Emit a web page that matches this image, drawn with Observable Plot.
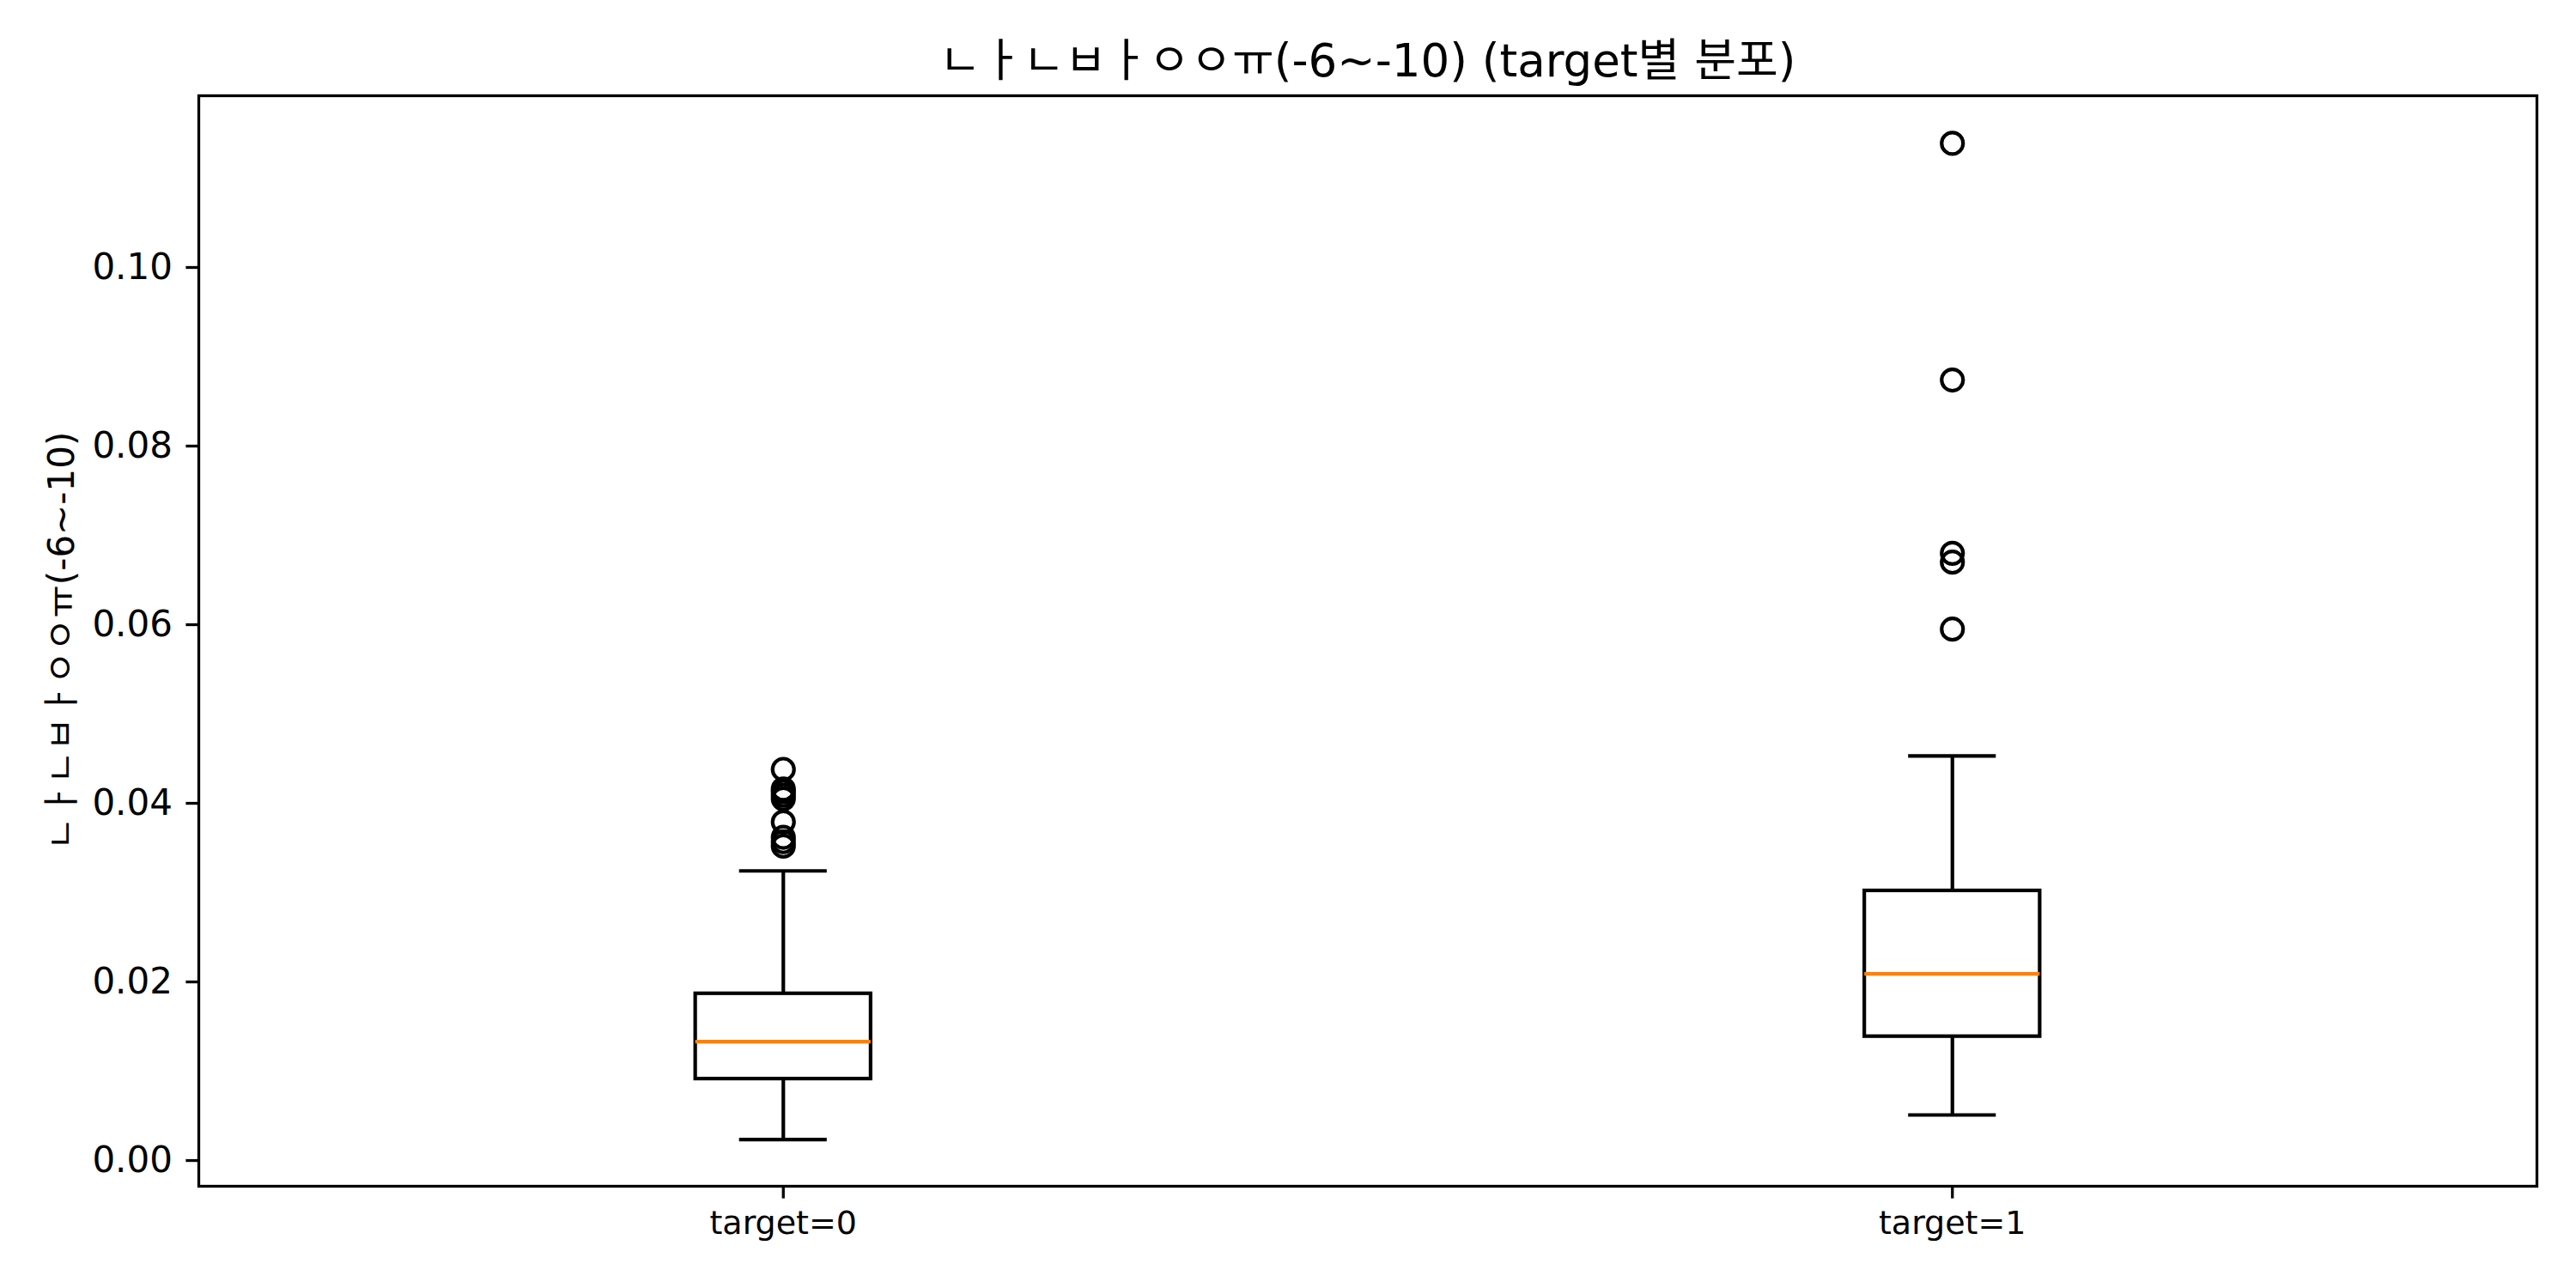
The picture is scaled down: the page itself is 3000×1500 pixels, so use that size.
<!DOCTYPE html>
<html><head><meta charset="utf-8">
<script src="https://cdn.jsdelivr.net/npm/d3@7"></script>
<script src="https://cdn.jsdelivr.net/npm/@observablehq/plot@0.6"></script>
<style>
body{margin:0;background:#fff;}
#title{margin-left:231px;width:2723px;height:59px;padding-top:41px;text-align:center;white-space:nowrap;font-family:"DejaVu Sans","Noto Sans CJK KR",sans-serif;font-size:53px;line-height:60px;color:#000;}
</style>
</head><body>
<div id="title">ㄴㅏㄴㅂㅏㅇㅇㅠ(-6~-10) (target별 분포)</div>
<div id="chart"></div>
<script>
const categories = ["target=0", "target=1"];
const positions = [1, 2];
const whiskerLow = [0.00234, 0.0051];
const q1 = [0.00913, 0.01388];
const median = [0.0133, 0.0209];
const q3 = [0.01868, 0.0302];
const whiskerHigh = [0.03243, 0.0453];
const outliers0 = [0.0438, 0.0416, 0.0413, 0.0409, 0.0405, 0.0379, 0.0362, 0.0357, 0.0352];
const outliers1 = [0.1139, 0.0874, 0.0680, 0.0670, 0.0595];
const yTicks = [0, 0.02, 0.04, 0.06, 0.08, 0.10];
const yLabel = "ㄴㅏㄴㅂㅏㅇㅇㅠ(-6~-10)";

const boxHalf = 0.075, capHalf = 0.0375;
const boxes = categories.map((c, i) => ({cat: c, pos: positions[i], lo: whiskerLow[i], q1: q1[i], med: median[i], q3: q3[i], hi: whiskerHigh[i]}));
const outliers = [
  ...outliers0.map(v => ({pos: positions[0], value: v})),
  ...outliers1.map(v => ({pos: positions[1], value: v}))
];
const lw = 4.2;
const chart = Plot.plot({
  width: 3000,
  height: 1400,
  marginTop: 11,
  marginBottom: 119,
  marginLeft: 231,
  marginRight: 46,
  style: {fontFamily: "'DejaVu Sans','Noto Sans CJK KR',sans-serif", fontSize: "38px", color: "#000", background: "#fff"},
  x: {domain: [0.5, 2.5]},
  y: {domain: [-0.00288, 0.11923]},
  marks: [
    Plot.ruleX(boxes, {x: "pos", y1: "lo", y2: "q1", stroke: "black", strokeWidth: lw}),
    Plot.ruleX(boxes, {x: "pos", y1: "q3", y2: "hi", stroke: "black", strokeWidth: lw}),
    Plot.ruleY(boxes, {y: "lo", x1: d => d.pos - capHalf, x2: d => d.pos + capHalf, stroke: "black", strokeWidth: lw}),
    Plot.ruleY(boxes, {y: "hi", x1: d => d.pos - capHalf, x2: d => d.pos + capHalf, stroke: "black", strokeWidth: lw}),
    Plot.rect(boxes, {x1: d => d.pos - boxHalf, x2: d => d.pos + boxHalf, y1: "q1", y2: "q3", fill: "none", stroke: "black", strokeWidth: lw}),
    Plot.ruleY(boxes, {y: "med", x1: d => d.pos - boxHalf, x2: d => d.pos + boxHalf, stroke: "#ff7f0e", strokeWidth: lw}),
    Plot.dot(outliers, {x: "pos", y: "value", r: 12.5, fill: "none", stroke: "black", strokeWidth: lw}),
    Plot.axisX({ticks: positions, tickFormat: v => categories[positions.indexOf(v)], tickSize: 14.6, tickPadding: 14, label: null, strokeWidth: 3.3}),
    Plot.axisY({ticks: yTicks, tickFormat: d3.format(".2f"), tickSize: 14.6, tickPadding: 16, fontSize: 42, label: yLabel, labelAnchor: "center", labelArrow: "none", labelOffset: 175, strokeWidth: 3.3}),
    Plot.frame({stroke: "black", strokeWidth: 3.3})
  ]
});
document.getElementById("chart").appendChild(chart);
</script>
</body></html>
